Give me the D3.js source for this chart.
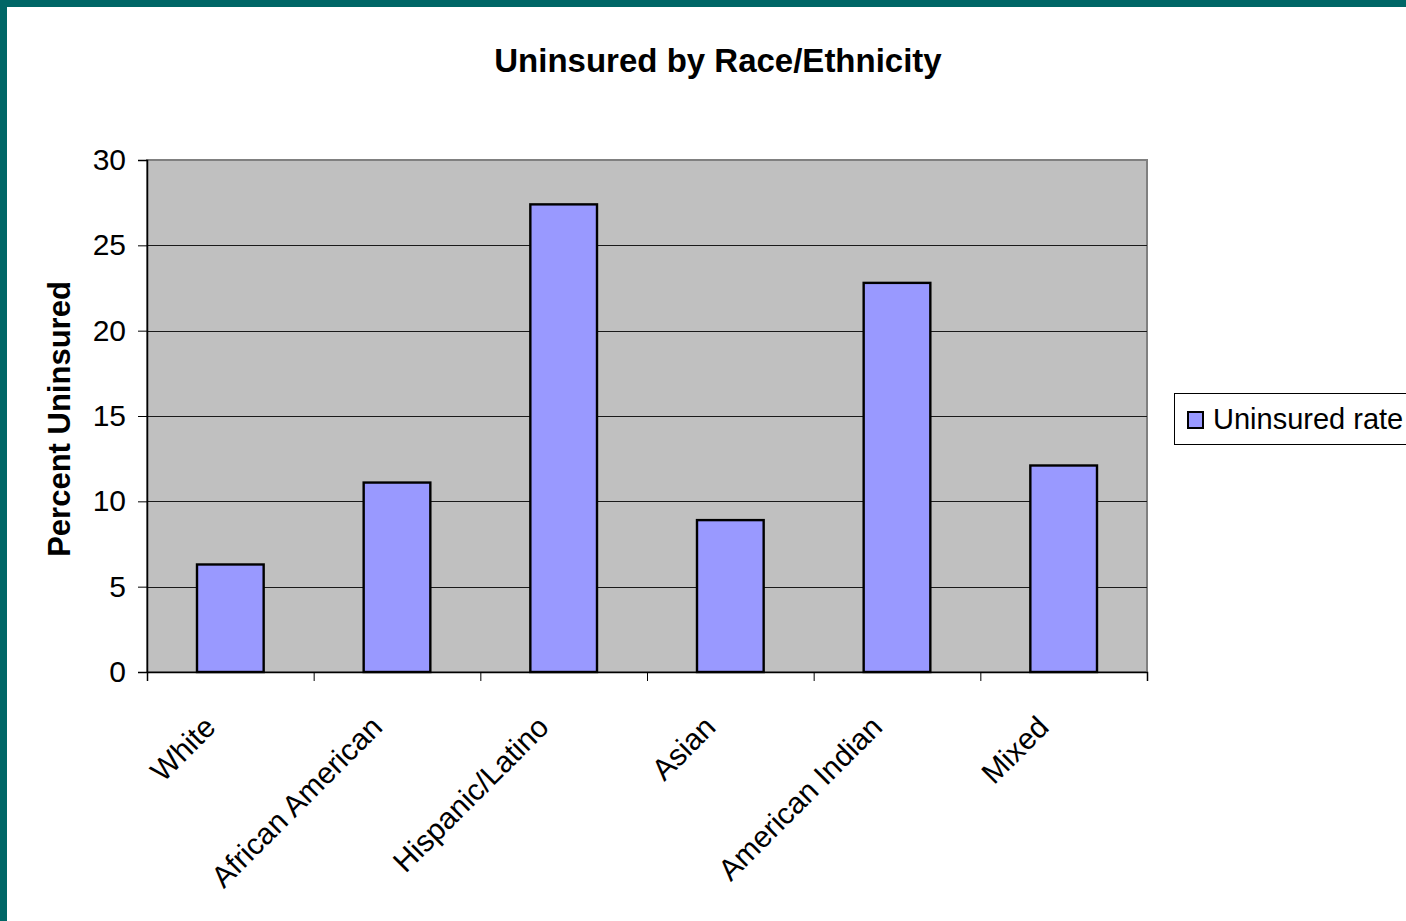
<!DOCTYPE html>
<html>
<head>
<meta charset="utf-8">
<script src="https://cdn.jsdelivr.net/npm/d3@7/dist/d3.min.js"></script>
<style>
  html, body { margin: 0; padding: 0; background: #fff; overflow: hidden; }
  svg { display: block; }
  text { font-family: Arial, "Liberation Sans", sans-serif; fill: #000; }
</style>
</head>
<body>
<svg id="chart" width="1406" height="921"></svg>
<script>
const categories = ["White", "African American", "Hispanic/Latino", "Asian", "American Indian", "Mixed"];
const uninsuredRate = [6.3, 11.1, 27.4, 8.9, 22.8, 12.1];
const yTicks = [0, 5, 10, 15, 20, 25, 30];
const seriesName = "Uninsured rate";
const chartTitle = "Uninsured by Race/Ethnicity";
const yAxisTitle = "Percent Uninsured";

const W = 1406, H = 921;
const svg = d3.select("#chart");

// background + teal frame
svg.append("rect").attr("x", 0).attr("y", 0).attr("width", W).attr("height", H).attr("fill", "#006666");
svg.append("rect").attr("x", 7).attr("y", 7).attr("width", W - 7).attr("height", H - 7).attr("fill", "#ffffff");

const plot = { left: 147, right: 1147, top: 160, bottom: 672 };

const x = d3.scaleBand()
  .domain(categories)
  .range([plot.left, plot.right])
  .paddingInner(0.6)
  .paddingOuter(0.3);

const xBound = d3.scaleLinear().domain([0, categories.length]).range([plot.left, plot.right]);

const y = d3.scaleLinear().domain([0, 30]).range([plot.bottom, plot.top]);

// plot area background
svg.append("rect")
  .attr("x", plot.left).attr("y", plot.top)
  .attr("width", plot.right - plot.left).attr("height", plot.bottom - plot.top)
  .attr("fill", "#C0C0C0")
  .attr("stroke", "#808080").attr("stroke-width", 2);

// gridlines
svg.append("g")
  .selectAll("line")
  .data(yTicks.filter(d => d > 0 && d < 30))
  .join("line")
  .attr("x1", plot.left).attr("x2", plot.right)
  .attr("y1", d => Math.round(y(d)) + 0.5).attr("y2", d => Math.round(y(d)) + 0.5)
  .attr("stroke", "#1a1a1a").attr("stroke-width", 1);

// bars
svg.append("g")
  .selectAll("rect")
  .data(categories.map((c, i) => ({ c, v: uninsuredRate[i] })))
  .join("rect")
  .attr("x", d => x(d.c))
  .attr("y", d => y(d.v))
  .attr("width", x.bandwidth())
  .attr("height", d => y(0) - y(d.v))
  .attr("fill", "#9999FF")
  .attr("stroke", "#000").attr("stroke-width", 2.4);

// y axis
const yAxis = d3.axisLeft(y).tickValues(yTicks).tickSize(9).tickPadding(12).tickFormat(d3.format("d"));
const gy = svg.append("g").attr("transform", `translate(${plot.left},0)`).call(yAxis);
gy.select(".domain").attr("stroke", "#000").attr("stroke-width", 1.5);
gy.selectAll(".tick line").attr("stroke", "#000");
gy.selectAll(".tick text").attr("font-size", 30).attr("font-family", "Arial, 'Liberation Sans', sans-serif").attr("fill", "#000");

// x axis line + boundary ticks
const xAxis = d3.axisBottom(xBound).tickValues(d3.range(categories.length + 1)).tickSize(9).tickFormat("");
const gx = svg.append("g").attr("transform", `translate(0,${plot.bottom})`).call(xAxis);
gx.select(".domain").attr("stroke", "#000").attr("stroke-width", 1.5);
gx.selectAll(".tick line").attr("stroke", "#000");

// category labels
svg.append("g")
  .selectAll("text")
  .data(categories)
  .join("text")
  .attr("transform", d => `translate(${x(d) + x.bandwidth() / 2 - 13},729) rotate(-45)`)
  .attr("text-anchor", "end")
  .attr("font-size", 30)
  .text(d => d);

// title
svg.append("text")
  .attr("x", 718).attr("y", 72)
  .attr("text-anchor", "middle")
  .attr("font-size", 33).attr("font-weight", "bold")
  .text(chartTitle);

// y axis title
svg.append("text")
  .attr("transform", `translate(70,419) rotate(-90)`)
  .attr("text-anchor", "middle")
  .attr("font-size", 31).attr("font-weight", "bold")
  .text(yAxisTitle);

// legend
const lg = svg.append("g");
lg.append("rect")
  .attr("x", 1174.5).attr("y", 393.5).attr("width", 260).attr("height", 51)
  .attr("fill", "#fff").attr("stroke", "#000").attr("stroke-width", 1);
lg.append("rect")
  .attr("x", 1188).attr("y", 412).attr("width", 15).attr("height", 16)
  .attr("fill", "#9999FF").attr("stroke", "#000").attr("stroke-width", 2);
lg.append("text")
  .attr("x", 1213).attr("y", 429)
  .attr("font-size", 29)
  .text(seriesName);
</script>
</body>
</html>
